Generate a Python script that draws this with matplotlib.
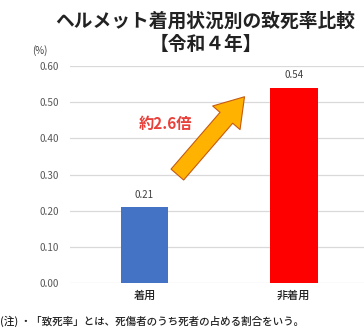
import matplotlib.pyplot as plt

plt.rcParams['font.family'] = ['Noto Sans CJK JP', 'DejaVu Sans']

categories = ['着用', '非着用']
rates = [0.21, 0.54]
bar_colors = ['#4472C4', '#FF0000']
yticks = [0.0, 0.1, 0.2, 0.3, 0.4, 0.5, 0.6]

fig = plt.figure(figsize=(3.64, 3.30), dpi=100)
ax = fig.add_axes([0.192, 0.142, 0.82, 0.658])

x = range(len(categories))
ax.bar(x, rates, width=0.32, color=bar_colors, zorder=3)
for xi, v in zip(x, rates):
    ax.text(xi, v + 0.02, f'{v:.2f}', ha='center', va='bottom', fontsize=7, color='#404040')

ax.set_xlim(-0.5, 1.5)
ax.set_ylim(0, 0.6)
ax.set_yticks(yticks)
ax.set_yticklabels([f'{t:.2f}' for t in yticks], fontsize=7.2, color='#595959')
ax.set_xticks(list(x))
ax.set_xticklabels(categories, fontsize=8, color='#222222', fontweight='medium')
ax.tick_params(length=0, pad=8)
ax.tick_params(axis='x', pad=5)
ax.grid(axis='y', color='#d9d9d9', lw=0.9, zorder=0)
for s in ax.spines.values():
    s.set_visible(False)

# 矢印
ax.annotate('', xy=(0.67, 0.515), xytext=(0.22, 0.3),
            arrowprops=dict(arrowstyle='simple,head_length=1.0,head_width=1.3,tail_width=0.6',
                            fc='#FFB300', ec='#C55A11', lw=0.8,
                            shrinkA=0, shrinkB=0, mutation_scale=20), zorder=4)
ax.text(0.14, 0.44, '約2.6倍', ha='center', va='center', fontsize=11,
        fontweight='bold', color='#E8403A')

fig.text(0.565, 0.935, 'ヘルメット着用状況別の致死率比較', ha='center', va='center',
         fontsize=13.5, fontweight='bold', color='#222222')
fig.text(0.565, 0.865, '【令和４年】', ha='center', va='center',
         fontsize=13.5, fontweight='bold', color='#222222')
fig.text(0.11, 0.848, '(%)', ha='center', va='center', fontsize=7, color='#404040')
fig.text(0.0, 0.025, '(注) ・「致死率」とは、死傷者のうち死者の占める割合をいう。',
         ha='left', va='center', fontsize=7.6, color='#222222', fontweight='medium')

fig.savefig('out.png', dpi=100)
